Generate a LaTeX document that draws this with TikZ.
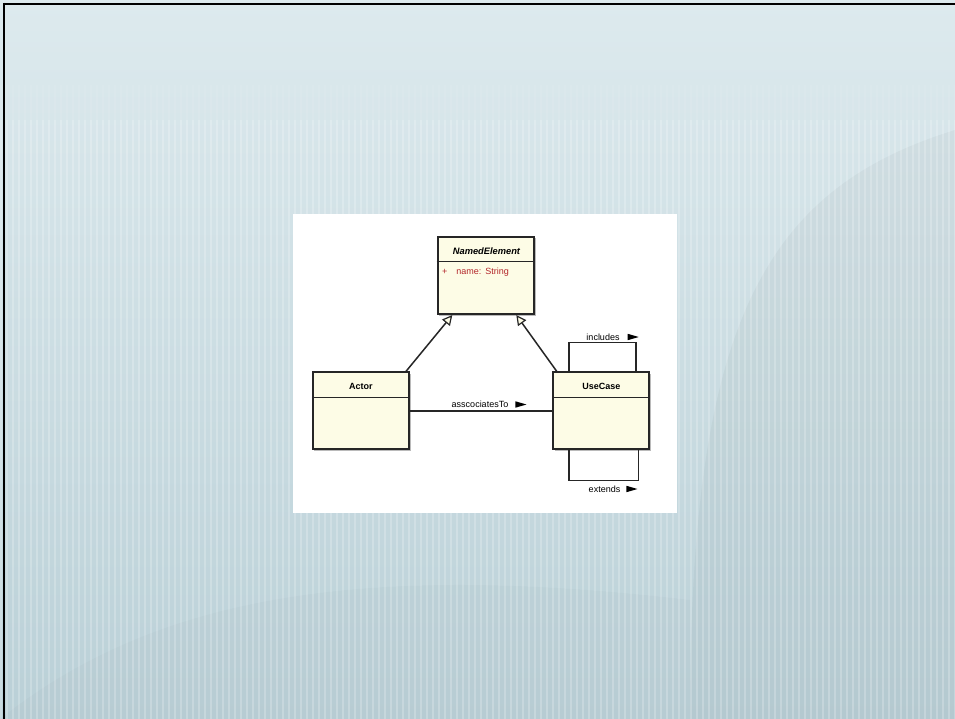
\documentclass[tikz,border=0pt]{standalone}
\usepackage{fontspec}
\setmainfont{Liberation Sans}
\usetikzlibrary{arrows.meta,calc,shadows}
\definecolor{cream}{HTML}{FDFCE6}
\definecolor{attrred}{HTML}{B3262B}
\definecolor{bgtop}{HTML}{DDEAEE}
\definecolor{bgbot}{HTML}{BAD0D7}
\definecolor{edge}{HTML}{262626}
\tikzset{
  umlclass/.style={draw=edge, line width=2pt, fill=cream, inner sep=0pt,
    drop shadow={shadow xshift=1.5pt, shadow yshift=-1.5pt, fill=black!45, opacity=0.6}},
  classname/.style={font=\fontsize{9}{11}\selectfont\bfseries, inner sep=0pt},
  lbl/.style={font=\fontsize{9}{11}\selectfont, inner sep=0pt},
  conn/.style={draw=edge, line width=1.5pt},
  gen/.style={conn, -{Triangle[open, length=10pt, width=10pt, fill=cream, line width=1.2pt]}},
  sep/.style={draw=edge, line width=1.6pt},
}
\begin{document}
\begin{tikzpicture}[x=1pt, y=-1pt]
\useasboundingbox (0,0) rectangle (955,719);
% background
\shade[top color=bgtop, bottom color=bgbot] (0,0) rectangle (955,719);
\fill[black, opacity=0.03] (690,719) .. controls (690,330) and (760,190) .. (955,130) -- (955,719) -- cycle;
\fill[black, opacity=0.015] (0,719) .. controls (150,600) and (350,560) .. (690,600) -- (690,719) -- cycle;
\foreach \x in {0,6,...,955} {
  \fill[white, opacity=0.22] (\x,120) rectangle ++(1.8,599);
  \fill[white, opacity=0.08] (\x,85) rectangle ++(1.8,35);
}
% frame
\draw[black, line width=2.5pt] (3,4) -- (955,4);
\draw[black, line width=2.5pt] (4,3) -- (4,719);
% white panel
\fill[white] (293,214) rectangle (677,513);
% classes
\node[umlclass, minimum width=96.6pt, minimum height=77.3pt] (ne) at (486,275.4) {};
\node[umlclass, minimum width=96.3pt, minimum height=77pt] (actor) at (360.9,410.8) {};
\node[umlclass, minimum width=96pt, minimum height=77pt] (uc) at (601.3,410.8) {};
\draw[sep] ([yshift=-25.6pt]ne.north west) -- ([yshift=-25.6pt]ne.north east);
\draw[sep] ([yshift=-26pt]actor.north west) -- ([yshift=-26pt]actor.north east);
\draw[sep] ([yshift=-26pt]uc.north west) -- ([yshift=-26pt]uc.north east);
\node[classname, font=\fontsize{9.3}{11}\selectfont\bfseries\itshape] (netitle) at (486.5,251.5) {NamedElement};
\node[lbl, text=attrred, anchor=west] (neattr) at (442,272) {+\hspace{9pt}name:\hspace{4pt}String};
\node[classname] (actortitle) at (360.9,386.5) {Actor};
\node[classname] (uctitle) at (601.3,386.5) {UseCase};
% generalizations
\draw[gen] ([xshift=-4pt]actor.north east) -- ([xshift=15.6pt]ne.south west);
\draw[gen] ([xshift=4.4pt]uc.north west) -- ([xshift=-19pt]ne.south east);
% association
\draw[conn] (actor.east) -- (uc.west);
\node[lbl] (assoc) at (480,404.5) {asscociatesTo};
\fill[black] ($(assoc.east)+(7,-3.2)$) -- ++(11,3.2) -- ++(-11,3.2) -- cycle;
% includes loop
\coordinate (incL) at ([xshift=16.7pt]uc.north west);
\coordinate (incR) at ([xshift=-14.3pt]uc.north east);
\draw[conn] (incL) -- ++(0,-29) -| (incR);
\node[lbl] (incl) at (603,337) {includes};
\fill[black] ($(incl.east)+(8,-3.2)$) -- ++(11,3.2) -- ++(-11,3.2) -- cycle;
% extends loop
\coordinate (extL) at ([xshift=16.7pt]uc.south west);
\coordinate (extR) at ([xshift=-12pt]uc.south east);
\draw[conn] (extL) -- ++(0,30) -| (extR);
\node[lbl] (ext) at (604.5,489) {extends};
\fill[black] ($(ext.east)+(6,-3.2)$) -- ++(11,3.2) -- ++(-11,3.2) -- cycle;
\end{tikzpicture}
\end{document}
